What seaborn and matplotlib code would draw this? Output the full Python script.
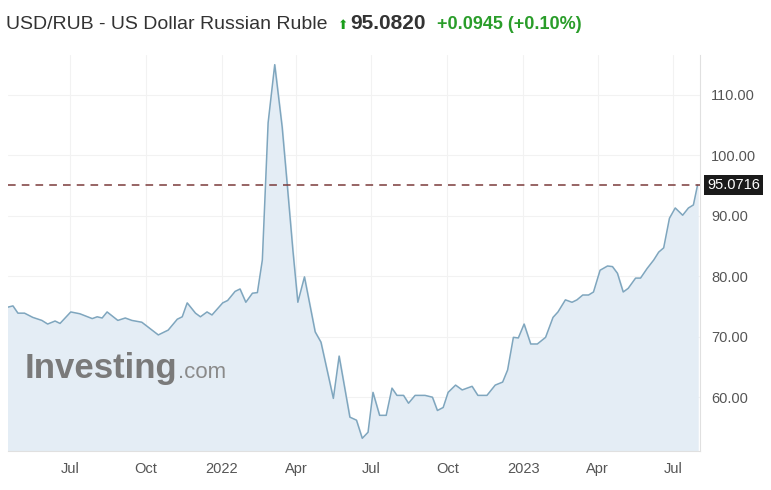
import numpy as np
import pandas as pd
import matplotlib
matplotlib.use('Agg')
import matplotlib.pyplot as plt
import matplotlib.dates as mdates
import seaborn as sns

# days since 2021-07-01
day_offsets = [-75, -69, -63, -55, -45, -34, -27, -18, -12, 1, 12, 27, 33, 39, 45, 58, 67, 75, 87,
               107, 119, 130, 136, 142, 152, 158, 166, 172, 185, 191, 200, 206, 213, 221, 227, 233,
               240, 248, 257, 263, 270, 276, 284, 297, 304, 319, 326, 339, 347, 354, 361, 367, 375,
               383, 390, 396, 404, 410, 418, 430, 439, 445, 452, 458, 467, 475, 487, 494, 505, 515,
               524, 530, 537, 543, 550, 558, 566, 576, 585, 591, 600, 608, 614, 621, 628, 634, 642,
               651, 657, 663, 670, 676, 685, 691, 699, 707, 713, 719, 726, 733, 742, 749, 755, 760]
rates = [74.9, 75.1, 73.9, 73.9, 73.2, 72.7, 72.1, 72.6, 72.2, 74.1, 73.8, 73.0, 73.3, 73.1, 74.1,
         72.7, 73.1, 72.7, 72.4, 70.3, 71.1, 72.9, 73.3, 75.6, 73.9, 73.3, 74.1, 73.6, 75.6, 76.0,
         77.5, 77.9, 75.7, 77.2, 77.3, 82.7, 105.4, 115.0, 104.7, 95.4, 84.3, 75.7, 79.9, 70.8, 69.1,
         59.8, 66.8, 56.7, 56.2, 53.2, 54.2, 60.8, 57.0, 57.0, 61.5, 60.3, 60.3, 59.0, 60.3, 60.3,
         60.0, 57.8, 58.3, 60.8, 62.0, 61.2, 61.8, 60.3, 60.3, 62.0, 62.5, 64.5, 69.9, 69.8, 72.1,
         68.8, 68.8, 69.9, 73.2, 74.1, 76.1, 75.7, 76.1, 76.9, 76.9, 77.4, 81.0, 81.7, 81.6, 80.5,
         77.4, 78.0, 79.7, 79.7, 81.3, 82.7, 84.0, 84.7, 89.6, 91.3, 90.1, 91.3, 91.8, 95.0716]
last_price = 95.0716
yticks = [60, 70, 80, 90, 100, 110]
xtick_dates = ['2021-07-01', '2021-10-01', '2022-01-01', '2022-04-01', '2022-07-01',
               '2022-10-01', '2023-01-01', '2023-04-01', '2023-07-01']
xtick_labels = ['Jul', 'Oct', '2022', 'Apr', 'Jul', 'Oct', '2023', 'Apr', 'Jul']

df = pd.DataFrame({'date': pd.Timestamp('2021-07-01') + pd.to_timedelta(day_offsets, unit='D'),
                   'rate': rates})

sns.set_style('white')
plt.rcParams['font.family'] = ['Liberation Sans', 'DejaVu Sans']

fig = plt.figure(figsize=(7.71, 4.90), dpi=100)
ax = fig.add_axes([8 / 771, 39 / 490, 692 / 771, 396 / 490])

ymin, ymax = 51.1, 116.6
ax.fill_between(df['date'], df['rate'], ymin, color='#e4edf5', zorder=1)
sns.lineplot(data=df, x='date', y='rate', ax=ax, color='#7fa6be', linewidth=1.1, zorder=3)
ax.axhline(last_price, color='#7a3b3b', linestyle=(0, (5, 4)), linewidth=1.1, zorder=4)

ax.set_ylim(ymin, ymax)
ax.set_xlim(df['date'].iloc[0], df['date'].iloc[-1] + pd.Timedelta(days=3))
ax.yaxis.tick_right()
ax.set_yticks(yticks)
ax.set_yticklabels([f'{v:.2f}' for v in yticks])
ax.set_xticks(pd.to_datetime(xtick_dates))
ax.set_xticklabels(xtick_labels)
ax.tick_params(axis='both', colors='#555555', labelsize=10.5, length=0, pad=8)
ax.grid(True, color='#f2f2f2', linewidth=0.8)
ax.set_xlabel('')
ax.set_ylabel('')
for s in ['top', 'left']:
    ax.spines[s].set_visible(False)
for s in ['bottom', 'right']:
    ax.spines[s].set_color('#e0e0e0')

ax.text(1.01, last_price, f'{last_price:.4f}', transform=ax.get_yaxis_transform(),
        va='center', ha='left', color='white', fontsize=10.5,
        bbox=dict(boxstyle='square,pad=0.2', facecolor='#1a1a1a', edgecolor='none'))

# watermark
renderer = fig.canvas.get_renderer()
wm = fig.text(25 / 771, 1 - 378 / 490, 'Investing', fontsize=25, fontweight='bold', color='#7a7a7a',
              va='baseline', ha='left')
wm_right = wm.get_window_extent(renderer).x1
fig.text(wm_right / 771, 1 - 378 / 490, '.com', fontsize=16, color='#8a8a8a',
         va='baseline', ha='left')

# title
fig.text(6 / 771, 1 - 29 / 490, 'USD/RUB - US Dollar Russian Ruble', fontsize=14, color='#333333',
         va='baseline', ha='left')
fig.text(338 / 771, 1 - 29 / 490, '\u2B06', fontsize=9, color='#1a9e1a', va='baseline', ha='left',
         family=['DejaVu Sans'])
fig.text(350 / 771, 1 - 29 / 490, '95.0820', fontsize=15, fontweight='bold', color='#333333',
         va='baseline', ha='left')
fig.text(437 / 771, 1 - 29 / 490, '+0.0945 (+0.10%)', fontsize=13, fontweight='bold', color='#2a9d2a',
         va='baseline', ha='left')

fig.savefig('out.png', dpi=100)
